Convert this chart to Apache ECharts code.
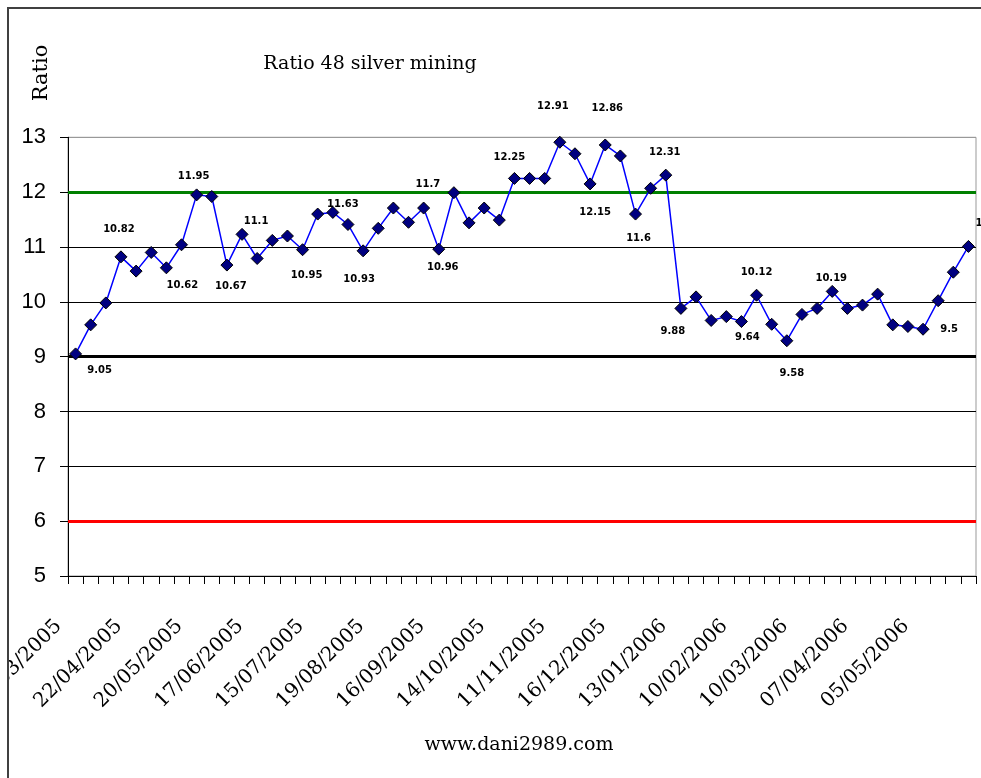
<!DOCTYPE html>
<html>
<head>
<meta charset="utf-8">
<script src="https://cdn.jsdelivr.net/npm/echarts@6/dist/echarts.min.js"></script>
<style>
  html, body { margin: 0; padding: 0; background: #fff; }
  #chart { width: 981px; height: 778px; }
</style>
</head>
<body>
<div id="chart"></div>
<script>
// weekly dates (friday close)
const dates = [
  '25/03/2005', '01/04/2005', '08/04/2005', '15/04/2005', '22/04/2005', '29/04/2005',
  '06/05/2005', '13/05/2005', '20/05/2005', '27/05/2005', '03/06/2005', '10/06/2005',
  '17/06/2005', '24/06/2005', '01/07/2005', '08/07/2005', '15/07/2005', '22/07/2005',
  '29/07/2005', '12/08/2005', '19/08/2005', '26/08/2005', '02/09/2005', '09/09/2005',
  '16/09/2005', '23/09/2005', '30/09/2005', '07/10/2005', '14/10/2005', '21/10/2005',
  '28/10/2005', '04/11/2005', '11/11/2005', '18/11/2005', '25/11/2005', '09/12/2005',
  '16/12/2005', '23/12/2005', '30/12/2005', '06/01/2006', '13/01/2006', '20/01/2006',
  '27/01/2006', '03/02/2006', '10/02/2006', '17/02/2006', '24/02/2006', '03/03/2006',
  '10/03/2006', '17/03/2006', '24/03/2006', '31/03/2006', '07/04/2006', '14/04/2006',
  '21/04/2006', '28/04/2006', '05/05/2006', '12/05/2006', '19/05/2006', '26/05/2006'
];

const ratio = [
  9.05, 9.58, 9.98, 10.82, 10.56, 10.90, 10.62, 11.04, 11.95, 11.92,
  10.67, 11.23, 10.79, 11.12, 11.20, 10.95, 11.60, 11.63, 11.41, 10.93,
  11.34, 11.71, 11.45, 11.71, 10.96, 11.99, 11.44, 11.71, 11.49, 12.25,
  12.25, 12.25, 12.91, 12.70, 12.15, 12.86, 12.66, 11.60, 12.07, 12.31,
  9.88, 10.09, 9.66, 9.73, 9.64, 10.12, 9.59, 9.29, 9.77, 9.88,
  10.19, 9.88, 9.94, 10.14, 9.58, 9.55, 9.50, 10.02, 10.54, 11.01
];

// points that carry a value label, and the text written there
const labelIdx = [0, 3, 6, 8, 10, 11, 15, 17, 19, 24, 25, 29, 32, 34, 35, 37, 39, 40, 44, 45, 47, 50, 56, 59];
const labelText = ['9.05', '10.82', '10.62', '11.95', '10.67', '11.1', '10.95', '11.63', '10.93', '10.96',
  '11.7', '12.25', '12.91', '12.15', '12.86', '11.6', '12.31', '9.88', '9.64', '10.12',
  '9.58', '10.19', '9.5', '11.01'];

const refLevels = [12, 9, 6];
const refColors = ['#008000', '#000000', '#ff0000'];

// where each label sits relative to its point
const labelOffsets = [
  [24, 16], [-2, -27], [16, 18], [-3, -18], [4, 21], [14, -13], [4, 26], [10, -8], [-4, 29], [4, 18],
  [-26, -8], [-5, -21], [-7, -36], [5, 28], [2, -37], [3, 24], [-1, -23], [-8, 23], [6, 16], [0, -23],
  [5, 33], [-1, -13], [26, 0], [23, -23]
];

const seriesData = ratio.map(function (v, i) {
  const k = labelIdx.indexOf(i);
  if (k < 0) return v;
  return {
    value: v,
    label: {
      show: true,
      position: 'inside',
      offset: labelOffsets[k],
      formatter: labelText[k]
    }
  };
});

const chart = echarts.init(document.getElementById('chart'));

const option = {
  animation: false,
  backgroundColor: '#ffffff',
  title: {
    text: 'Ratio 48 silver mining',
    left: 365,
    top: 50,
    textAlign: 'center',
    textStyle: {
      fontFamily: 'DejaVu Serif',
      fontSize: 19,
      fontWeight: 'normal',
      color: '#000'
    }
  },
  grid: {
    left: 68,
    right: 5,
    top: 137.3,
    bottom: 202,
    containLabel: false,
    outerBoundsMode: 'none',
    show: true,
    borderColor: '#999',
    borderWidth: 1
  },
  xAxis: {
    type: 'category',
    data: dates,
    boundaryGap: true,
    axisLine: { lineStyle: { color: '#000', width: 1 } },
    axisTick: { show: true, interval: 0, length: 8, lineStyle: { color: '#000' } },
    axisLabel: {
      interval: 3,
      rotate: 45,
      margin: 30,
      formatter: function (v) { return '{d|' + v + '}'; },
      rich: {
        d: {
          padding: [0, 24, 0, 0],
          fontFamily: 'DejaVu Serif',
          fontSize: 20,
          color: '#000'
        }
      }
    },
    splitLine: { show: false }
  },
  yAxis: {
    type: 'value',
    min: 5,
    max: 13,
    interval: 1,
    axisLine: { show: true, lineStyle: { color: '#000', width: 1 } },
    axisTick: { show: true, length: 8, lineStyle: { color: '#000' } },
    axisLabel: {
      margin: 22,
      fontFamily: 'Liberation Sans',
      fontSize: 22,
      color: '#000'
    },
    splitLine: {
      show: true,
      lineStyle: {
        color: ['#000', '#000', '#000', '#000', '#000', '#000', '#000', '#000', '#999'],
        width: 1
      }
    }
  },
  series: [{
    type: 'line',
    data: seriesData,
    showAllSymbol: true,
    symbol: 'diamond',
    symbolSize: 12,
    itemStyle: { color: '#000080', borderColor: '#000', borderWidth: 1 },
    lineStyle: { color: '#0000ff', width: 1.5 },
    label: {
      show: false,
      fontFamily: 'DejaVu Sans',
      fontSize: 10,
      fontWeight: 'bold',
      color: '#000',
      align: 'center',
      verticalAlign: 'middle'
    },
    markLine: {
      silent: true,
      symbol: 'none',
      label: { show: false },
      z: 1,
      data: refLevels.map(function (v, i) {
        return { yAxis: v, lineStyle: { color: refColors[i], width: 3, type: 'solid' } };
      })
    },
    z: 3
  }],
  graphic: [
    {
      type: 'rect',
      shape: { x: 8, y: 8, width: 1100, height: 1000 },
      style: { fill: null, stroke: '#404040', lineWidth: 2 },
      z: 100,
      silent: true
    },
    {
      type: 'rect',
      shape: { x: 0, y: 0, width: 7, height: 778 },
      style: { fill: '#fff' },
      z: 99,
      silent: true
    },
    {
      type: 'text',
      x: 42,
      y: 73,
      rotation: Math.PI / 2,
      style: {
        text: 'Ratio',
        fontFamily: 'DejaVu Serif',
        fontSize: 21,
        fill: '#000',
        textAlign: 'center',
        textVerticalAlign: 'middle'
      }
    },
    {
      type: 'text',
      x: 519,
      y: 745,
      style: {
        text: 'www.dani2989.com',
        fontFamily: 'DejaVu Serif',
        fontSize: 19,
        fill: '#000',
        textAlign: 'center',
        textVerticalAlign: 'middle'
      }
    }
  ]
};

chart.setOption(option);
</script>
</body>
</html>
